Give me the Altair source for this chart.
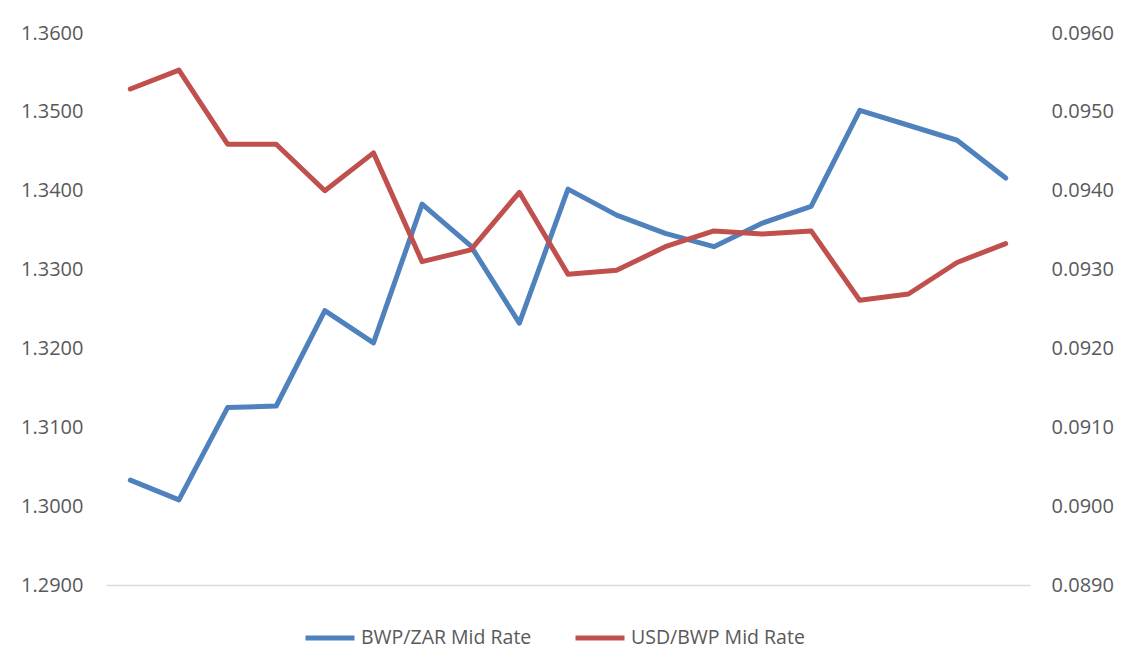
import altair as alt
import pandas as pd

idx = list(range(1, 20))
bwp_zar = [1.3033, 1.3008, 1.3125, 1.3127, 1.3248, 1.3207, 1.3383, 1.3330, 1.3232, 1.3402,
           1.3369, 1.3346, 1.3329, 1.3359, 1.3380, 1.3502, 1.3483, 1.3464, 1.3416]
usd_bwp = [0.09529, 0.09553, 0.09459, 0.09459, 0.09400, 0.09448, 0.09310, 0.09325, 0.09398, 0.09294,
           0.09299, 0.09329, 0.09349, 0.09345, 0.09349, 0.09261, 0.09269, 0.09309, 0.09333]
series_names = ["BWP/ZAR Mid Rate", "USD/BWP Mid Rate"]
colors = ["#4F81BD", "#C0504D"]
left_ticks = [1.29, 1.30, 1.31, 1.32, 1.33, 1.34, 1.35, 1.36]
right_ticks = [0.089, 0.090, 0.091, 0.092, 0.093, 0.094, 0.095, 0.096]

df1 = pd.DataFrame({"idx": idx, "value": bwp_zar, "series": series_names[0]})
df2 = pd.DataFrame({"idx": idx, "value": usd_bwp, "series": series_names[1]})

FONT = "Open Sans"
TXT = "#595959"

color = alt.Color(
    "series:N",
    scale=alt.Scale(domain=series_names, range=colors),
    legend=alt.Legend(
        title=None, orient="none", direction="horizontal",
        legendX=197, legendY=578,
        symbolType="stroke", symbolSize=2400, symbolStrokeWidth=5,
        labelFont=FONT, labelFontSize=19.5, labelColor=TXT, labelOffset=4,
        columnPadding=33, labelLimit=400,
    ),
)

x = alt.X("idx:Q", scale=alt.Scale(domain=[0.5, 19.5], nice=False, zero=False),
          axis=alt.Axis(title=None, labels=False, ticks=False, grid=False,
                        domain=True, domainColor="#D9D9D9", domainWidth=1.3,
                        orient="bottom"))

left = alt.Chart(df1).mark_line(strokeWidth=5, strokeCap="round", strokeJoin="round").encode(
    x=x,
    y=alt.Y("value:Q", scale=alt.Scale(domain=[1.29, 1.36], nice=False, zero=False),
            axis=alt.Axis(title=None, values=left_ticks, format=".4f", orient="left",
                          domain=False, ticks=False, grid=False, labelPadding=23,
                          labelFont=FONT, labelFontSize=20, labelColor=TXT)),
    color=color,
)

right = alt.Chart(df2).mark_line(strokeWidth=5, strokeCap="round", strokeJoin="round").encode(
    x=x,
    y=alt.Y("value:Q", scale=alt.Scale(domain=[0.089, 0.096], nice=False, zero=False),
            axis=alt.Axis(title=None, values=right_ticks, format=".4f", orient="right",
                          domain=False, ticks=False, grid=False, labelPadding=21,
                          labelFont=FONT, labelFontSize=20, labelColor=TXT)),
    color=color,
)

chart = alt.layer(left, right).resolve_scale(y="independent").properties(
    width=924, height=552,
    autosize=alt.AutoSizeParams(type="none"),
    padding={"left": 98, "top": 25, "right": 85, "bottom": 78},
).configure(background="white").configure_view(strokeWidth=0, stroke="transparent")

chart.save("out.html", embed_options={"renderer": "svg", "actions": False})
